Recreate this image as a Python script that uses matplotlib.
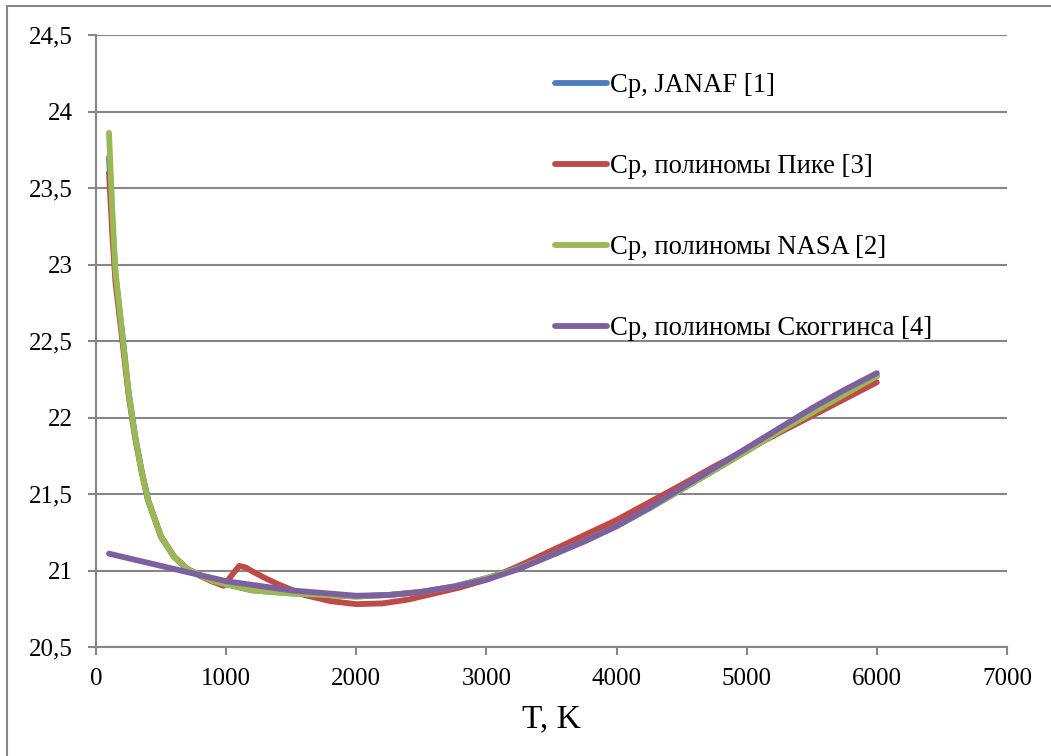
import matplotlib.pyplot as plt
from matplotlib.patches import Rectangle

# data
t_janaf = [100, 125, 150, 200, 250, 300, 350, 400, 500, 600, 700, 800, 900, 1000, 1200,
           1500, 2000, 2250, 2500, 2750, 3000, 3250, 3500, 3750, 4000, 4250, 4500, 4750,
           5000, 5250, 5500, 5750, 6000]
cp_janaf = [23.70, 23.28, 22.93, 22.56, 22.17, 21.88, 21.65, 21.46, 21.22, 21.09, 21.01,
            20.97, 20.93, 20.91, 20.87, 20.85, 20.83, 20.84, 20.86, 20.895, 20.95, 21.015,
            21.10, 21.19, 21.29, 21.405, 21.53, 21.655, 21.78, 21.91, 22.03, 22.15, 22.27]

t_pike = [100, 125, 150, 200, 250, 300, 350, 400, 500, 600, 700, 800, 900, 980, 1100, 1150,
          1200, 1300, 1400, 1600, 1800, 2000, 2200, 2400, 2600, 2800, 3000, 3250, 3500, 3750,
          4000, 4250, 4500, 4750, 5000, 5250, 5500, 5750, 6000]
cp_pike = [23.60, 23.20, 22.88, 22.52, 22.15, 21.87, 21.65, 21.46, 21.22, 21.09, 21.01,
           20.965, 20.925, 20.90, 21.03, 21.02, 20.995, 20.95, 20.91, 20.84, 20.80, 20.78,
           20.785, 20.81, 20.85, 20.89, 20.94, 21.03, 21.13, 21.23, 21.33, 21.445, 21.56,
           21.68, 21.79, 21.90, 22.01, 22.12, 22.23]

t_nasa = [100, 125, 150, 200, 250, 300, 350, 400, 500, 600, 700, 800, 900, 1000, 1200,
          1500, 2000, 2250, 2500, 2750, 3000, 3250, 3500, 3750, 4000, 4250, 4500, 4750,
          5000, 5250, 5500, 5750, 6000]
cp_nasa = [23.86, 23.36, 22.95, 22.56, 22.17, 21.88, 21.65, 21.46, 21.22, 21.09, 21.01,
           20.97, 20.93, 20.91, 20.87, 20.85, 20.83, 20.84, 20.86, 20.895, 20.95, 21.015,
           21.10, 21.19, 21.29, 21.405, 21.53, 21.655, 21.78, 21.91, 22.03, 22.15, 22.27]

t_skog = [100, 500, 1000, 1500, 2000, 2250, 2500, 2750, 3000, 3250, 3500, 3750, 4000,
          4250, 4500, 4750, 5000, 5250, 5500, 5750, 6000]
cp_skog = [21.11, 21.03, 20.93, 20.87, 20.835, 20.84, 20.86, 20.895, 20.94, 21.01, 21.10,
           21.19, 21.29, 21.41, 21.54, 21.67, 21.80, 21.93, 22.06, 22.18, 22.29]

labels = ['Ср, JANAF [1]', 'Ср, полиномы Пике [3]', 'Ср, полиномы NASA [2]',
          'Ср, полиномы Скоггинса [4]']
colors = ['#4A7EBB', '#BE4B48', '#98B954', '#7D60A0']

yticks = [20.5, 21, 21.5, 22, 22.5, 23, 23.5, 24, 24.5]
ytick_labels = ['20,5', '21', '21,5', '22', '22,5', '23', '23,5', '24', '24,5']
xticks = [0, 1000, 2000, 3000, 4000, 5000, 6000, 7000]

plt.rcParams['font.family'] = 'serif'
plt.rcParams['font.serif'] = ['Liberation Serif', 'DejaVu Serif']
grey = '#868686'

fig = plt.figure(figsize=(10.51, 7.56), dpi=100)
ax = fig.add_axes([96/1051, 1-647/756, 911/1051, 612/756])

series = [(t_janaf, cp_janaf), (t_pike, cp_pike), (t_nasa, cp_nasa), (t_skog, cp_skog)]
for (t, cp), lab, c in zip(series, labels, colors):
    ax.plot(t, cp, color=c, lw=4.2, label=lab, solid_capstyle='round', solid_joinstyle='round')

ax.set_xlim(0, 7000)
ax.set_ylim(20.5, 24.5)
ax.set_xticks(xticks)
ax.set_xticklabels([str(x) for x in xticks])
ax.set_yticks(yticks)
ax.set_yticklabels(ytick_labels)
ax.yaxis.grid(True, color=grey, lw=1.5)
ax.set_axisbelow(True)
for s in ['top', 'right']:
    ax.spines[s].set_visible(False)
for s in ['left', 'bottom']:
    ax.spines[s].set_color(grey)
    ax.spines[s].set_linewidth(1.5)
ax.tick_params(axis='y', direction='out', length=6, width=1.5, color=grey, labelsize=18, pad=11,
               labelfontfamily='serif')
ax.tick_params(axis='x', direction='out', length=6, width=1.5, color=grey, labelsize=18, pad=9,
               labelfontfamily='serif')
ax.set_xlabel('T, K', fontsize=24, labelpad=10)

leg = ax.legend(loc='upper left', bbox_to_anchor=(0.4775, 0.977), frameon=False, fontsize=19.2,
                handlelength=1.95, handletextpad=0.1, labelspacing=2.1)

fig.patches.append(Rectangle((7/1051, -0.1), 1.2, 1.1 - 6/756, transform=fig.transFigure,
                             fill=False, edgecolor=grey, lw=1.5))

fig.savefig('out.png', dpi=100)
